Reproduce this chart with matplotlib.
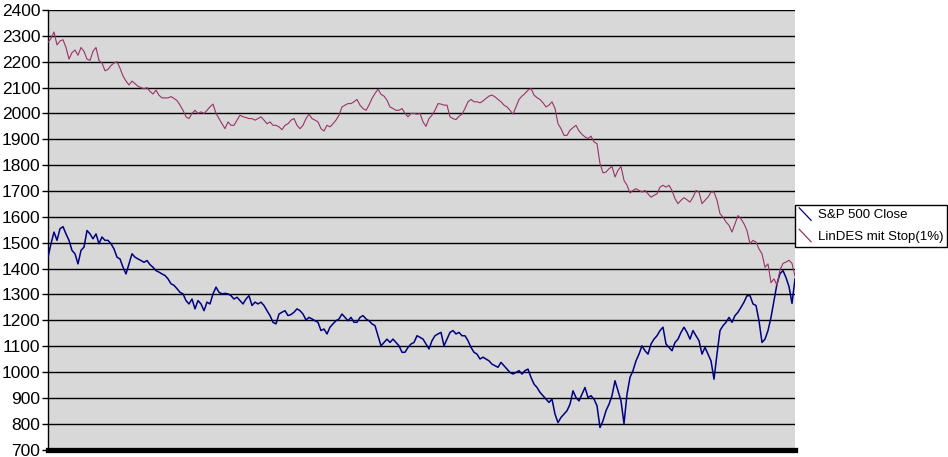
import matplotlib
matplotlib.use('Agg')
import matplotlib.pyplot as plt
from matplotlib.lines import Line2D
from matplotlib.legend_handler import HandlerBase
import numpy as np

plt.rcParams['font.family'] = ['Liberation Sans', 'DejaVu Sans']

# ---- data ----
series_labels = ['S&P 500 Close', 'LinDES mit Stop(1%)']
y_ticks = [700, 800, 900, 1000, 1100, 1200, 1300, 1400, 1500, 1600, 1700,
           1800, 1900, 2000, 2100, 2200, 2300, 2400]

sp500_close = [
    1444, 1496, 1541, 1509, 1554, 1562, 1534, 1509, 1470, 1457, 1418, 1470, 1483, 1547,
    1534, 1515, 1534, 1496, 1522, 1509, 1509, 1496, 1476, 1444, 1437, 1405, 1379, 1418,
    1457, 1444, 1437, 1431, 1424, 1431, 1415, 1405, 1392, 1386, 1379, 1373, 1360, 1341,
    1335, 1322, 1308, 1302, 1276, 1263, 1282, 1244, 1276, 1263, 1237, 1270, 1263, 1302,
    1328, 1308, 1302, 1304, 1302, 1295, 1282, 1289, 1276, 1263, 1282, 1295, 1257, 1270,
    1263, 1270, 1257, 1237, 1218, 1192, 1186, 1224, 1231, 1237, 1218, 1222, 1231,
    1244, 1237, 1224, 1201, 1211, 1205, 1198, 1192, 1160, 1166, 1147, 1173, 1186, 1198,
    1205, 1224, 1211, 1198, 1211, 1192, 1192, 1211, 1218, 1205, 1198, 1186, 1179, 1140,
    1101, 1114, 1127, 1114, 1127, 1114, 1101, 1076, 1076, 1095, 1108, 1114, 1140, 1134,
    1127, 1108, 1089, 1121, 1140, 1147, 1153, 1101, 1127, 1153, 1160, 1147, 1153, 1140,
    1140, 1121, 1095, 1076, 1069, 1050, 1057, 1050, 1043, 1030, 1024, 1018, 1037, 1024,
    1011, 998, 992, 998, 1005, 992, 1005, 1011, 979, 953, 940, 921, 908,
    895, 882, 895, 837, 804, 824, 837, 850, 875, 927, 901, 888, 914, 940,
    901, 908, 895, 869, 785, 811, 850, 875, 908, 966, 927, 888, 800, 914,
    979, 1005, 1043, 1069, 1101, 1082, 1069, 1108, 1127, 1140, 1160, 1173, 1108,
    1095, 1082, 1114, 1127, 1153, 1173, 1153, 1127, 1160, 1140, 1121, 1069, 1095, 1069,
    1043, 972, 1069, 1160, 1179, 1192, 1211, 1192, 1218, 1231, 1250, 1270, 1295, 1295,
    1263, 1257, 1198, 1114, 1127, 1160, 1211, 1276, 1341, 1380, 1392, 1365, 1330, 1265,
    1360,
]

lindes_stop = [
    2275, 2290, 2315, 2265, 2280, 2285, 2255, 2210, 2235, 2245, 2225, 2255, 2240, 2210,
    2205, 2240, 2255, 2205, 2195, 2165, 2170, 2185, 2195, 2200, 2175, 2145, 2125, 2110,
    2125, 2115, 2105, 2100, 2095, 2100, 2085, 2075, 2090, 2070, 2060, 2060, 2060, 2065,
    2058, 2050, 2032, 2012, 1987, 1980, 2000, 2012, 2000, 2006, 2000, 2012, 2025, 2036,
    2000, 1980, 1960, 1941, 1967, 1954, 1954, 1974, 1993, 1987, 1984, 1980, 1980, 1974,
    1980, 1987, 1974, 1960, 1967, 1954, 1954, 1948, 1937, 1954, 1960, 1974, 1980,
    1954, 1941, 1954, 1980, 1997, 1980, 1974, 1967, 1941, 1932, 1954, 1948, 1960, 1974,
    1993, 2025, 2032, 2038, 2038, 2045, 2054, 2032, 2019, 2012, 2032, 2058, 2077, 2094,
    2074, 2067, 2051, 2025, 2019, 2012, 2012, 2019, 2000, 1987, 2000, 2000, 1997, 2000,
    1967, 1950, 1980, 1993, 2012, 2038, 2036, 2032, 2032, 1987, 1980, 1976, 1989, 1997,
    2019, 2045, 2054, 2045, 2045, 2041, 2048, 2058, 2067, 2071, 2064, 2054, 2045, 2032,
    2025, 2012, 1997, 2025, 2054, 2067, 2077, 2090, 2096, 2071, 2061, 2054, 2041,
    2025, 2032, 2045, 2019, 1960, 1941, 1915, 1915, 1935, 1945, 1954, 1932, 1919, 1909,
    1903, 1912, 1890, 1883, 1806, 1770, 1773, 1786, 1795, 1754, 1780, 1795, 1741, 1722,
    1692, 1702, 1709, 1702, 1696, 1702, 1689, 1676, 1683, 1689, 1715, 1722, 1715,
    1722, 1702, 1670, 1651, 1664, 1674, 1666, 1657, 1676, 1702, 1696, 1651, 1664, 1676,
    1696, 1696, 1664, 1612, 1599, 1580, 1567, 1541, 1573, 1605, 1592, 1573, 1547, 1496,
    1509, 1502, 1476, 1457, 1405, 1418, 1345, 1360, 1335, 1395, 1420, 1425, 1432, 1420,
    1370,
]

days = np.arange(len(sp500_close))

W, H = 948, 457
fig = plt.figure(figsize=(W / 100, H / 100), dpi=100)
fig.patch.set_facecolor('white')
ax = fig.add_axes([48 / W, 1 - 449.5 / H, (795 - 48) / W, (449.5 - 10) / H])
ax.set_facecolor('#d8d8d8')

ax.plot(days, sp500_close, color='#000080', lw=1.1, label=series_labels[0], zorder=3)
ax.plot(days, lindes_stop, color='#993366', lw=0.8, label=series_labels[1], zorder=3)

ax.set_xlim(days[0], days[-1])
ax.set_ylim(y_ticks[0], y_ticks[-1])
ax.set_yticks(y_ticks)
ax.set_xticks([])
ax.yaxis.grid(True, color='black', lw=1.0)
ax.set_axisbelow(True)
ax.tick_params(axis='y', direction='out', length=4, width=1, color='black',
               labelsize=12.5, pad=1.5, labelcolor='black')
for s in ['top', 'right']:
    ax.spines[s].set_visible(False)
ax.spines['left'].set_color('black')
ax.spines['left'].set_linewidth(1.0)
ax.spines['bottom'].set_color('black')
ax.spines['bottom'].set_linewidth(3.8)


class DiagHandler(HandlerBase):
    def create_artists(self, legend, orig_handle, xdescent, ydescent, width,
                       height, fontsize, trans):
        x0 = -xdescent
        y0 = -ydescent
        line = Line2D([x0, x0 + width], [y0 + height * 1.15, y0 - height * 0.2],
                      color=orig_handle.get_color(), lw=0.9, transform=trans)
        return [line]


handles = ax.get_lines()
leg = fig.legend(handles, series_labels, loc='upper left',
                 bbox_to_anchor=(795 / W, 1 - 205 / H), bbox_transform=fig.transFigure,
                 frameon=True, fancybox=False, shadow=False, framealpha=1,
                 edgecolor='black', facecolor='white', borderaxespad=0,
                 handlelength=0.9, handletextpad=0.5, borderpad=0.32,
                 labelspacing=0.7, fontsize=9.5,
                 handler_map={Line2D: DiagHandler()})
leg.get_frame().set_linewidth(1.0)

fig.savefig('out.png', dpi=100)
